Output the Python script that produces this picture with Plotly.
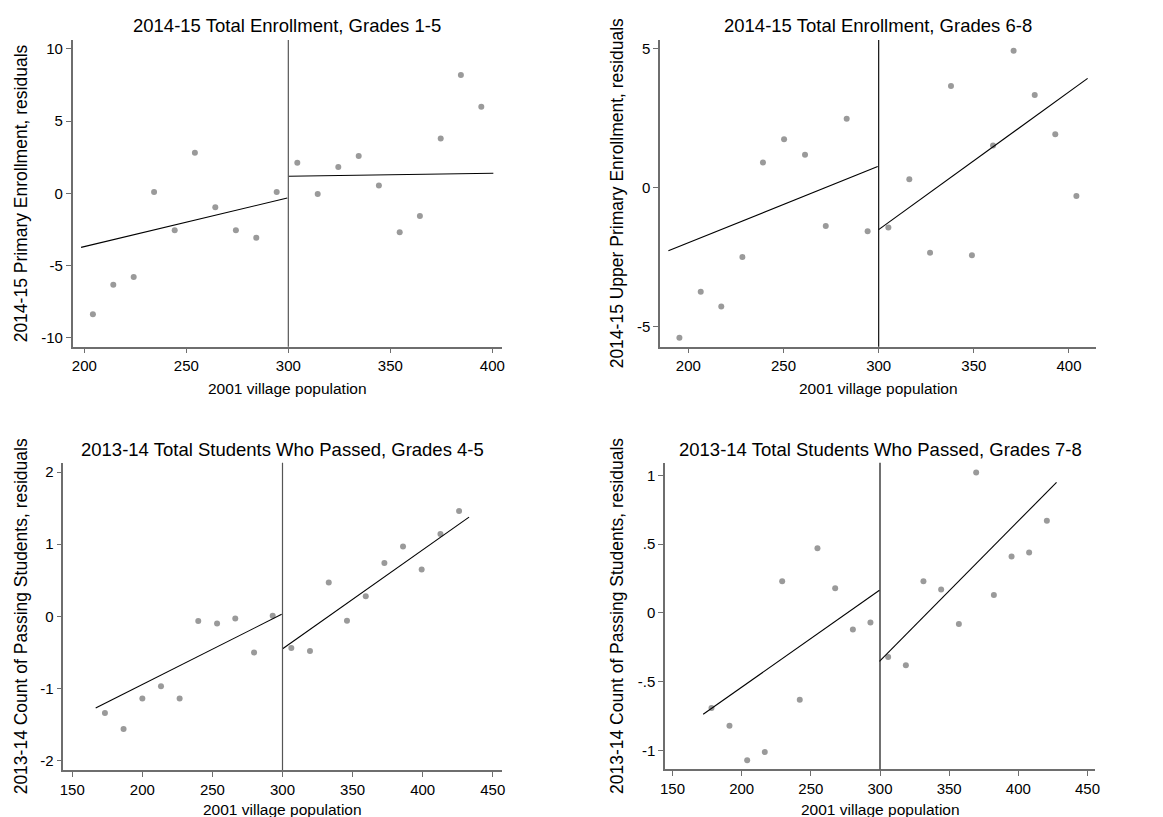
import plotly.graph_objects as go

FONT = "Liberation Sans, Arial, sans-serif"

# ---------------- data ----------------
titles = [
    "2014-15 Total Enrollment, Grades 1-5",
    "2014-15 Total Enrollment, Grades 6-8",
    "2013-14 Total Students Who Passed, Grades 4-5",
    "2013-14 Total Students Who Passed, Grades 7-8",
]
ytitles = [
    "2014-15 Primary Enrollment, residuals",
    "2014-15 Upper Primary Enrollment, residuals",
    "2013-14 Count of Passing Students, residuals",
    "2013-14 Count of Passing Students, residuals",
]
xtitle = "2001 village population"

# Panel 1
p1_x = [204.2, 214.2, 224.2, 234.2, 244.3, 254.2, 264.2, 274.3, 284.3, 294.3,
        304.4, 314.4, 324.5, 334.5, 344.4, 354.6, 364.5, 374.7, 384.6, 394.6]
p1_y = [-8.38, -6.33, -5.80, 0.09, -2.56, 2.82, -0.97, -2.56, -3.07, 0.09,
        2.12, -0.05, 1.82, 2.59, 0.55, -2.70, -1.57, 3.79, 8.20, 6.00]
p1_fit_left_x = [198.4, 299.5]
p1_fit_left_y = [-3.74, -0.32]
p1_fit_right_x = [300.0, 400.5]
p1_fit_right_y = [1.18, 1.39]

# Panel 2
p2_x = [195.3, 206.5, 217.3, 228.4, 239.2, 250.3, 261.3, 272.2, 283.2, 294.2,
        305.1, 316.1, 327.0, 338.0, 349.0, 360.1, 370.9, 382.0, 392.8, 403.9]
p2_y = [-5.40, -3.74, -4.27, -2.49, 0.90, 1.74, 1.18, -1.38, 2.48, -1.57,
        -1.43, 0.30, -2.34, 3.66, -2.43, 1.52, 4.92, 3.33, 1.92, -0.30]
p2_fit_left_x = [189.5, 299.5]
p2_fit_left_y = [-2.27, 0.76]
p2_fit_right_x = [299.8, 409.8]
p2_fit_right_y = [-1.52, 3.93]

# Panel 3
p3_x = [173.3, 186.6, 200.0, 213.3, 226.6, 239.9, 253.3, 266.3, 279.7, 293.0,
        306.3, 319.6, 333.0, 346.0, 359.4, 372.7, 386.0, 399.3, 412.7, 426.0]
p3_y = [-1.34, -1.56, -1.14, -0.97, -1.14, -0.065, -0.10, -0.03, -0.50, 0.01,
        -0.44, -0.48, 0.47, -0.06, 0.28, 0.74, 0.97, 0.65, 1.14, 1.46]
p3_fit_left_x = [166.7, 299.4]
p3_fit_left_y = [-1.27, 0.028]
p3_fit_right_x = [300.1, 433.1]
p3_fit_right_y = [-0.45, 1.375]

# Panel 4
p4_x = [178.2, 191.2, 204.0, 216.7, 229.3, 242.0, 254.8, 267.6, 280.4, 293.1,
        305.9, 318.7, 331.4, 344.2, 357.0, 369.5, 382.3, 395.1, 407.8, 420.6]
p4_y = [-0.69, -0.82, -1.07, -1.01, 0.23, -0.63, 0.47, 0.18, -0.12, -0.07,
        -0.32, -0.38, 0.23, 0.17, -0.08, 1.02, 0.13, 0.41, 0.44, 0.67]
p4_fit_left_x = [172.2, 299.6]
p4_fit_left_y = [-0.736, 0.165]
p4_fit_right_x = [299.6, 427.6]
p4_fit_right_y = [-0.351, 0.949]

cutoff = 300

# ticks
p1_yticks = [-10, -5, 0, 5, 10]
p1_yticklabels = ["-10", "-5", "0", "5", "10"]
p1_xticks = [200, 250, 300, 350, 400]
p2_yticks = [-5, 0, 5]
p2_yticklabels = ["-5", "0", "5"]
p2_xticks = [200, 250, 300, 350, 400]
p3_yticks = [-2, -1, 0, 1, 2]
p3_yticklabels = ["-2", "-1", "0", "1", "2"]
p3_xticks = [150, 200, 250, 300, 350, 400, 450]
p4_yticks = [-1, -0.5, 0, 0.5, 1]
p4_yticklabels = ["-1", "-.5", "0", ".5", "1"]
p4_xticks = [150, 200, 250, 300, 350, 400, 450]

panels = [
    dict(x=p1_x, y=p1_y, flx=p1_fit_left_x, fly=p1_fit_left_y, frx=p1_fit_right_x, fry=p1_fit_right_y,
         xr=[194.3, 404.6], yr=[-10.62, 10.62], xt=p1_xticks, yt=p1_yticks, ytl=p1_yticklabels, vc="#555555"),
    dict(x=p2_x, y=p2_y, flx=p2_fit_left_x, fly=p2_fit_left_y, frx=p2_fit_right_x, fry=p2_fit_right_y,
         xr=[185.1, 414.2], yr=[-5.72, 5.31], xt=p2_xticks, yt=p2_yticks, ytl=p2_yticklabels, vc="#111111"),
    dict(x=p3_x, y=p3_y, flx=p3_fit_left_x, fly=p3_fit_left_y, frx=p3_fit_right_x, fry=p3_fit_right_y,
         xr=[143.6, 456.4], yr=[-2.13, 2.13], xt=p3_xticks, yt=p3_yticks, ytl=p3_yticklabels, vc="#555555"),
    dict(x=p4_x, y=p4_y, flx=p4_fit_left_x, fly=p4_fit_left_y, frx=p4_fit_right_x, fry=p4_fit_right_y,
         xr=[144.6, 455.4], yr=[-1.136, 1.092], xt=p4_xticks, yt=p4_yticks, ytl=p4_yticklabels, vc="#111111"),
]

# ---------------- layout geometry (pixels) ----------------
W, H = 1163, 817
boxes = [  # left, right, top, bottom in px
    (72.7, 501.7, 40, 346.7),
    (660, 1096, 40, 346.7),
    (63.3, 501.7, 462.7, 770),
    (665, 1095, 462.7, 769.3),
]
ytitle_x = [21, 617, 21, 617]
xtitle_y = [388, 388, 809, 809]
title_y = [25.5, 25.5, 449, 449]

fig = go.Figure()
layout = dict(
    width=W, height=H,
    margin=dict(l=0, r=0, t=0, b=0),
    paper_bgcolor="white", plot_bgcolor="white",
    showlegend=False,
    font=dict(family=FONT, color="black", size=14),
)
annotations = []
shapes = []
AXC = "#6e6e6e"

for i, p in enumerate(panels):
    n = i + 1
    xa = "x" if n == 1 else f"x{n}"
    ya = "y" if n == 1 else f"y{n}"
    l, r, t, b = boxes[i]
    fig.add_trace(go.Scatter(x=p["x"], y=p["y"], mode="markers", xaxis=xa, yaxis=ya,
                             marker=dict(size=6, color="#9a9a9a"), hoverinfo="skip"))
    fig.add_trace(go.Scatter(x=p["flx"], y=p["fly"], mode="lines", xaxis=xa, yaxis=ya,
                             line=dict(color="black", width=1.1), hoverinfo="skip"))
    fig.add_trace(go.Scatter(x=p["frx"], y=p["fry"], mode="lines", xaxis=xa, yaxis=ya,
                             line=dict(color="black", width=1.1), hoverinfo="skip"))
    xkey = "xaxis" if n == 1 else f"xaxis{n}"
    ykey = "yaxis" if n == 1 else f"yaxis{n}"
    layout[xkey] = dict(
        domain=[l / W, r / W], anchor=ya, range=p["xr"], automargin=False,
        tickmode="array", tickvals=p["xt"],
        showgrid=False, zeroline=False, showline=True, linecolor=AXC, linewidth=1.5,
        ticks="outside", ticklen=5, tickcolor=AXC, tickwidth=1,
        tickfont=dict(family=FONT, size=15, color="black"),
    )
    layout[ykey] = dict(
        domain=[1 - b / H, 1 - t / H], anchor=xa, range=p["yr"], automargin=False,
        tickmode="array", tickvals=p["yt"], ticktext=p["ytl"],
        showgrid=False, zeroline=False, showline=True, linecolor=AXC, linewidth=1.5,
        ticks="outside", ticklen=5, tickcolor=AXC, tickwidth=1,
        tickfont=dict(family=FONT, size=15, color="black"),
    )
    shapes.append(dict(type="line", xref=xa, yref=f"{ya} domain", x0=cutoff, x1=cutoff, y0=0, y1=1,
                       line=dict(color=p["vc"], width=1.2)))
    annotations.append(dict(text=titles[i], xref="paper", yref="paper",
                            x=(l + r) / 2 / W, y=1 - title_y[i] / H, xanchor="center", yanchor="middle",
                            showarrow=False, font=dict(family=FONT, size=18.5, color="black")))
    annotations.append(dict(text=ytitles[i], xref="paper", yref="paper", textangle=-90,
                            x=ytitle_x[i] / W, y=1 - (t + b) / 2 / H, xanchor="center", yanchor="middle",
                            showarrow=False, font=dict(family=FONT, size=17.5, color="black")))
    annotations.append(dict(text=xtitle, xref="paper", yref="paper",
                            x=(l + r) / 2 / W, y=1 - xtitle_y[i] / H, xanchor="center", yanchor="middle",
                            showarrow=False, font=dict(family=FONT, size=15.5, color="black")))

layout["annotations"] = annotations
layout["shapes"] = shapes
fig.update_layout(**layout)
fig.write_html("out.html",
               config={"displayModeBar": False},
               post_script="document.body.style.margin='0';document.body.style.overflow='hidden';")
